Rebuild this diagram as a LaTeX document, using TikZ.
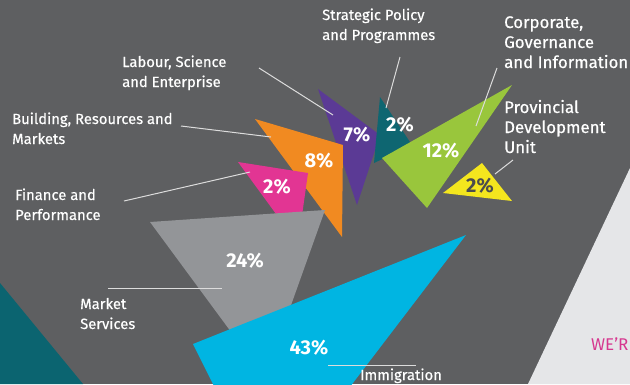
\documentclass[tikz,border=0pt]{standalone}
\usepackage{fontspec}
\setmainfont{Fira Sans}
\newfontfamily\labfont[FakeBold=0.4]{Fira Sans}
\definecolor{bgc}{HTML}{5E5F61}
\definecolor{lightc}{HTML}{E5E6E8}
\definecolor{tealbg}{HTML}{0B6470}
\definecolor{purplec}{HTML}{5B3A95}
\definecolor{tealc}{HTML}{0E6671}
\definecolor{greenc}{HTML}{99C63C}
\definecolor{yellowc}{HTML}{F4E61E}
\definecolor{orangec}{HTML}{F18A21}
\definecolor{pinkc}{HTML}{E23593}
\definecolor{grayc}{HTML}{939598}
\definecolor{cyanc}{HTML}{00B5E2}
\definecolor{leadc}{HTML}{DCDCDC}
\definecolor{wepink}{HTML}{D6378F}
\tikzset{
  lab/.style={text=white, font=\labfont\fontsize{14.8}{20}\selectfont, anchor=base west, inner sep=0pt, align=left},
  labbig/.style={lab, font=\labfont\fontsize{16.8}{20}\selectfont},
  pct/.style={text=white, font=\bfseries\fontsize{20}{20}\selectfont, inner sep=0pt, anchor=center},
  leader/.style={draw=leadc, line width=1pt}
}
\begin{document}
\begin{tikzpicture}[x=1pt,y=-1pt]
\useasboundingbox (0,0) rectangle (630,384);
\clip (0,0) rectangle (630,384);
\fill[bgc] (0,0) rectangle (630,384);
% background regions
\fill[lightc] (630,168) -- (528,384) -- (640,384) -- cycle;
\fill[tealbg] (0,283) -- (83,384) -- (0,384) -- cycle;
% triangles
\fill[purplec] (318,89) -- (380,135) -- (357,205) -- cycle;
\fill[tealc] (380,97) -- (412,145) -- (374,163) -- cycle;
\fill[greenc] (512,85) -- (382,158) -- (427,208) -- cycle;
\fill[yellowc] (482,163) -- (443,193) -- (512,201) -- cycle;
\fill[orangec] (255,119) -- (343,145) -- (342,237) -- cycle;
\fill[pinkc] (238,162) -- (308,173) -- (298,244) -- cycle;
\fill[grayc] (150,222) -- (325,210) -- (265,378) -- cycle;
\fill[cyanc] (466,235) -- (193,344) -- (221,400) -- (340,400) -- cycle;
% percentages
\node[pct] (p7) at (357,135) {7\%};
\node[pct] (p2t) at (400,125) {2\%};
\node[pct] (p12) at (441,151) {12\%};
\node[pct, text=bgc!80!black] (p2y) at (480,186) {2\%};
\node[pct] (p8) at (319,161) {8\%};
\node[pct] (p2p) at (277,187) {2\%};
\node[pct] (p24) at (245,261) {24\%};
\node[pct] (p43) at (309,348) {43\%};
% labels (anchor = baseline of last line)
\node[lab] (lsp) at (322,40) {Strategic Policy\\and Programmes};
\node[lab] (llse) at (122,87) {Labour, Science\\and Enterprise};
\node[lab] (lbrm) at (12,144) {Building, Resources and\\Markets};
\node[lab] (lfp) at (15,220) {Finance and\\Performance};
\node[lab] (lms) at (80,329) {Market\\Services};
\node[lab] (lim) at (360,380) {Immigration};
\node[labbig] (lcgi) at (504,68) {Corporate,\\Governance\\and Information};
\node[labbig] (lpdu) at (504,153) {Provincial\\Development\\Unit};
\node[anchor=base west, inner sep=0pt, text=wepink, font=\fontsize{17}{17}\selectfont] (lwe) at (591,350) {WE’R};
% leader lines
\coordinate (a1) at (400,57);  \coordinate (a2) at (386,108);
\coordinate (b1) at (497,68);  \coordinate (b2) at (476,126);
\coordinate (c1) at (513,160); \coordinate (c2) at (495,174);
\coordinate (d1) at (259,68);  \coordinate (d2) at (333,115);
\coordinate (e1) at (181,126); \coordinate (e2) at (271,137);
\coordinate (f1) at (124,201); \coordinate (f2) at (250,172);
\coordinate (g1) at (108,288); \coordinate (g2) at (222,288);
\coordinate (h1) at (328,365); \coordinate (h2) at (416,365);
\draw[leader] (a1) -- (a2);
\draw[leader] (b1) -- (b2);
\draw[leader] (c1) -- (c2);
\draw[leader] (d1) -- (d2);
\draw[leader] (e1) -- (e2);
\draw[leader] (f1) -- (f2);
\draw[leader] (g1) -- (g2);
\draw[leader] (h1) -- (h2);
\end{tikzpicture}
\end{document}
